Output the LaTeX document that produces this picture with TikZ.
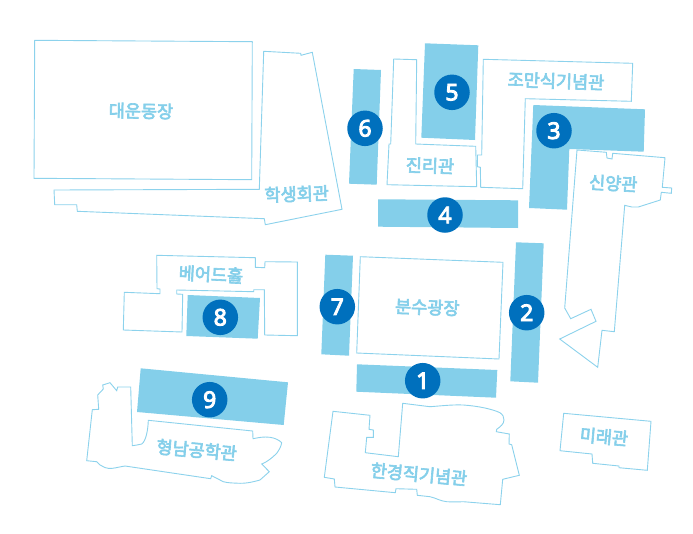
\documentclass[tikz,border=0pt]{standalone}
\usepackage{fontspec}
\setmainfont{Noto Sans CJK KR}[FakeBold=3.5]
\newfontfamily\digitfont{Noto Sans}[FakeBold=4]
\definecolor{mapsky}{HTML}{84CFEA}
\definecolor{mapline}{HTML}{8CD2EC}
\definecolor{mapblue}{HTML}{0070BD}
\tikzset{
 bldg/.style={draw=mapline,line width=0.9pt,fill=white,line join=miter},
 zone/.style={fill=mapsky,draw=none},
 num/.style={circle,fill=mapblue,text=white,minimum size=35.5pt,inner sep=0pt,font=\fontsize{23}{23}\selectfont\digitfont},
 lab/.style={text=mapsky,inner sep=0pt,font=\fontsize{17.5}{17.5}\selectfont}
}
\begin{document}
\begin{tikzpicture}[x=1pt,y=-1pt]
\useasboundingbox (0,0) rectangle (693,533);
% buildings
\draw[bldg] (34.7,40.3) -- (252.3,41.7) -- (251.7,179.7) -- (34,178.3) -- cycle;
\draw[bldg] (263.7,51.3) -- (300.7,53.3) -- (301,55.3) -- (312.3,52.3) -- (342,209.3) -- (265.3,224.7) -- (264.3,218.7) -- (77.3,211.3) -- (76.7,204.7) -- (54.7,204.7) -- (54,190) -- (259.3,189.3) -- cycle;
\draw[bldg] (393.7,59) -- (416.7,59.7) -- (415.7,144) -- (475.7,146.3) -- (476.7,186.7) -- (387,184.7) -- (389,144) -- (390.7,144) -- cycle;
\draw[bldg] (483.3,59.3) -- (632.7,63.3) -- (631.3,101.3) -- (525.3,98.7) -- (522.7,188.7) -- (480.7,187.3) -- (480.3,167.3) -- (477.3,166.7) -- (477.3,155) -- (481.7,155) -- cycle;
\draw[bldg] (577,150) -- (606.3,152.3) -- (607,158) -- (612,159) -- (612.7,153.3) -- (665,157.7) -- (662.3,187.3) -- (671.7,188) -- (671.3,193.3) -- (661.3,192.3) -- (660.3,200) -- (638.3,207) -- (631.7,207) -- (624.7,205.3) -- (614.3,331.7) -- (602,330.3) -- (597.7,367.3) -- (559.7,339) -- (596,321.3) -- (591,309.3) -- (570.7,318.7) -- (564.7,308) -- cycle;
\draw[bldg] (156.7,255.3) -- (255.3,257.7) -- (255.3,267.3) -- (264.7,267.7) -- (265,261.7) -- (297.3,262) -- (297.3,335.7) -- (264.7,335) -- (264.3,289.7) -- (253.7,289.7) -- (253.7,291.7) -- (176.7,290) -- (176.7,294) -- (182.7,294.3) -- (182,332) -- (123.3,330) -- (124.3,292.3) -- (160,293.7) -- (160,289) -- (157,288.7) -- cycle;
\draw[bldg] (148.3,420.3) -- (252.7,431) -- (253,438.7) .. controls (259,437.5) and (264,436.5) .. (270,437.3) .. controls (275,438) and (279,440) .. (281.7,442.7) .. controls (281,447) and (279,450) .. (276.7,453.3) .. controls (272,458) and (267,462) .. (261.7,464) -- (269.3,471.7) -- (260,480) .. controls (253,482) and (246,483.5) .. (240,483.3) .. controls (233,483) and (228,483) .. (223.3,481.7) -- (211.7,475.7) -- (210.7,478.7) -- (125,466) .. controls (118,467) and (113,469) .. (108.3,468.3) .. controls (104,468) and (101,465) .. (100,465) -- (96.7,461.7) -- (86.7,460.7) -- (92.3,409.7) -- (98.7,409.3) -- (97.7,395) -- (103.3,389) -- (102.7,385) -- (110,382.7) -- (116.7,390.7) -- (117.7,387) -- (130.7,387) -- (132.3,445.7) .. controls (137,445) and (140,444.5) .. (141.7,444) .. controls (146,441) and (148,430) .. (148.3,420.3) -- cycle;
\draw[bldg] (333,411.3) -- (370,415.3) -- (369,429.3) -- (373.3,430) -- (373.3,437.3) -- (366.7,437.3) -- (365.3,452.7) -- (398.3,456.7) -- (402.7,403.3) -- (430,406.7) .. controls (440,406) and (452,404.5) .. (463.3,405) .. controls (478,406) and (492,409) .. (500,412.7) .. controls (503,415) and (504,417) .. (504,420) .. controls (504,424) and (500,427) .. (496.7,429.3) -- (496.3,431.7) -- (509.3,434) -- (509,444) -- (511.7,444.7) -- (519.3,475.3) -- (502.7,479.3) -- (500.3,504.7) -- (463.3,501.7) .. controls (457,502) and (452,502) .. (446.7,501.7) .. controls (440,501) and (436,498) .. (430,496.7) -- (417.3,495.3) -- (416.7,489.3) -- (396,488.7) -- (395.3,492.7) -- (335,487) -- (334.3,479) -- (324.3,477.3) -- cycle;
\draw[bldg] (563.7,413.3) -- (651,421.3) -- (647.3,470.3) -- (619,467.7) -- (619,466) -- (592.7,463.3) -- (592,454) -- (560,450.7) -- cycle;
\draw[bldg] (360.3,256.7) -- (503,262.3) -- (499,359) -- (356.7,353) -- cycle;
% zones
\fill[zone] (353.7,69) -- (381,70) -- (376.7,184.7) -- (349,183.7) -- cycle;
\fill[zone] (425,43.3) -- (478.3,45.3) -- (475,140) -- (421.3,137.7) -- cycle;
\fill[zone] (533.3,105) -- (645,109.3) -- (643.7,151.7) -- (569.3,149) -- (567,209.7) -- (529,208) -- cycle;
\fill[zone] (378,199.3) -- (518,200.3) -- (518,228) -- (378,226.7) -- cycle;
\fill[zone] (516,242.3) -- (543.7,243.3) -- (538,382.7) -- (510.3,381.3) -- cycle;
\fill[zone] (325.3,254.7) -- (353,255.7) -- (349,355.7) -- (321.3,354.3) -- cycle;
\fill[zone] (187.7,295) -- (260,298) -- (257.7,338.7) -- (186.3,336) -- cycle;
\fill[zone] (140.7,368.3) -- (288,382.3) -- (283.7,425) -- (137,412) -- cycle;
\fill[zone] (357,364.3) -- (497.3,370) -- (496,397.7) -- (356.3,391.7) -- cycle;
% labels
\node[lab,rotate=-1] (t1) at (141,111) {대운동장};
\node[lab,rotate=2] (t2) at (296.7,194) {학생회관};
\node[lab,rotate=-2] (t3) at (430,165.7) {진리관};
\node[lab,rotate=-2] (t4) at (556,81) {조만식기념관};
\node[lab,rotate=-3] (t5) at (613.3,183.3) {신양관};
\node[lab,rotate=-3] (t6) at (211,274.3) {베어드홀};
\node[lab,rotate=-2] (t7) at (427.3,307.3) {분수광장};
\node[lab,rotate=-5] (t8) at (196.7,450) {형남공학관};
\node[lab,rotate=-5] (t9) at (419,474.3) {한경직기념관};
\node[lab,rotate=-5] (t10) at (604,436.7) {미래관};
% numbers
\node[num] (n1) at (422.7,380.7) {1};
\node[num] (n2) at (526.7,312.7) {2};
\node[num] (n3) at (554,130.7) {3};
\node[num] (n4) at (445,215) {4};
\node[num] (n5) at (452,92.3) {5};
\node[num] (n6) at (365,128.3) {6};
\node[num] (n7) at (337.3,306.7) {7};
\node[num] (n8) at (220.3,317.3) {8};
\node[num] (n9) at (209.7,399.7) {9};
\end{tikzpicture}
\end{document}
